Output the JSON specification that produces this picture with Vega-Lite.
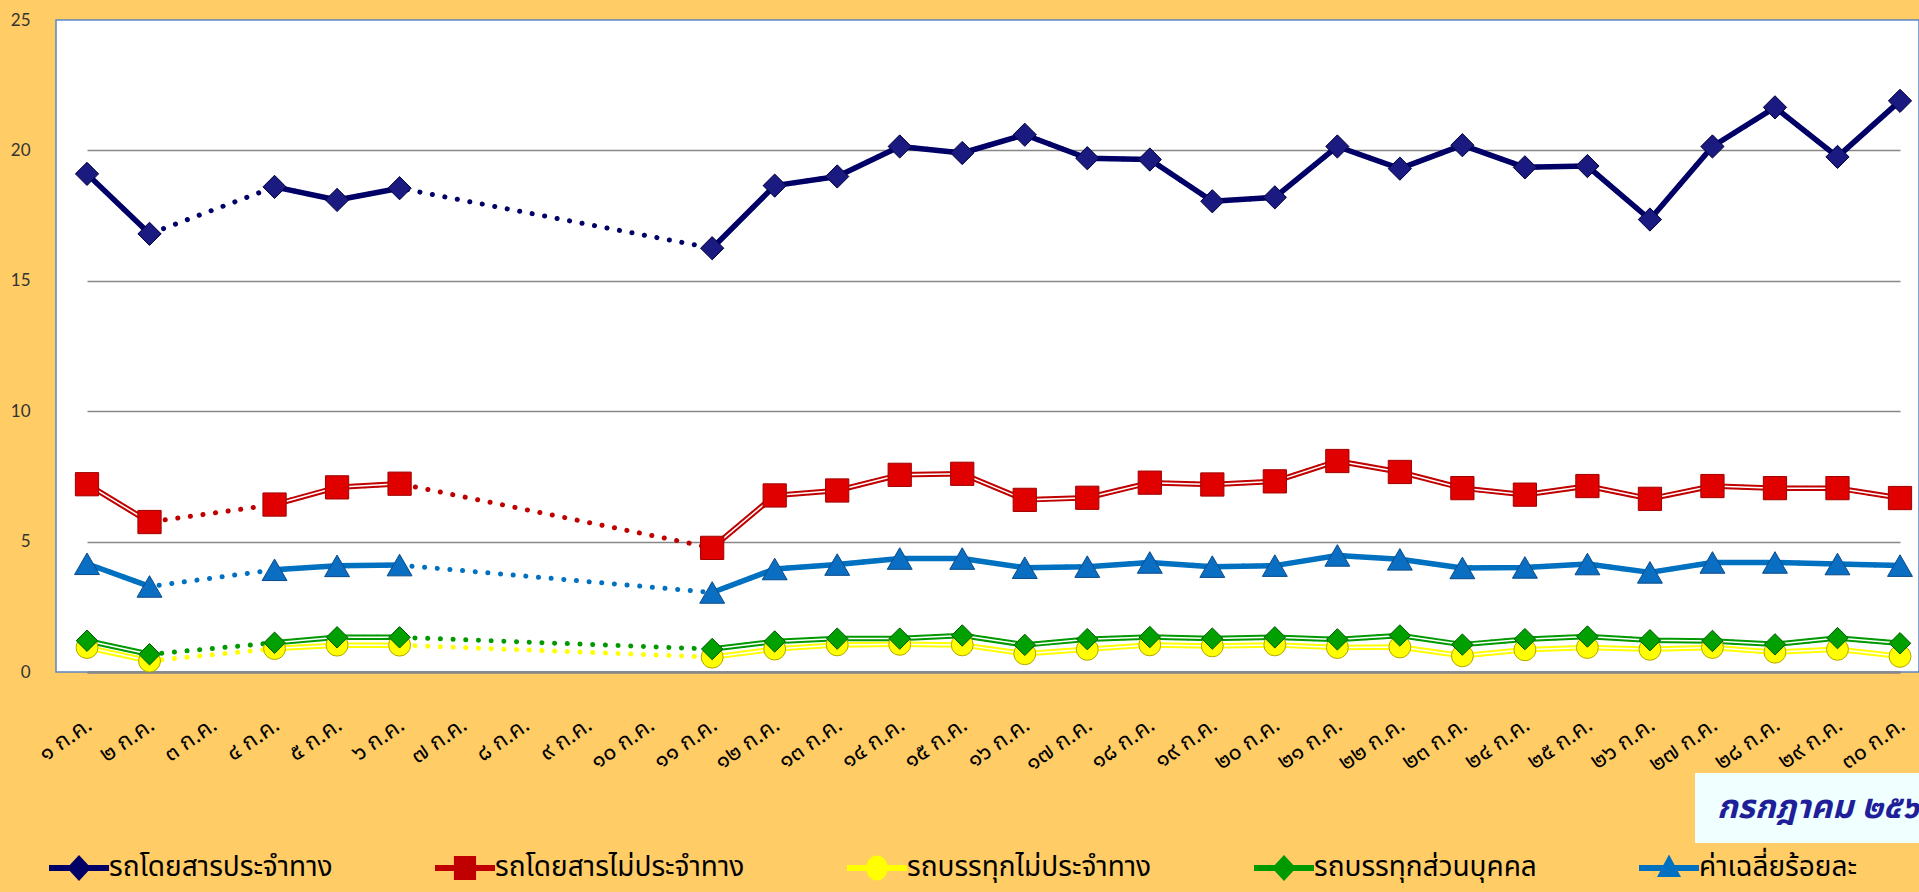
{
  "$schema": "https://vega.github.io/schema/vega-lite/v6.json",
  "width": 1863,
  "height": 652,
  "autosize": "none",
  "padding": {"left": 56, "top": 20, "right": 0, "bottom": 220},
  "background": "#FFCC66",
  "view": {"fill": "white", "stroke": "#5b87c5", "strokeWidth": 1.5},
  "data": {
    "values": [
      {"n": 1, "d": "๑ ก.ค.", "รถโดยสารประจำทาง": 19.1, "รถโดยสารไม่ประจำทาง": 7.2, "รถบรรทุกไม่ประจำทาง": 0.94, "รถบรรทุกส่วนบุคคล": 1.2, "ค่าเฉลี่ยร้อยละ": 4.15},
      {"n": 2, "d": "๒ ก.ค.", "รถโดยสารประจำทาง": 16.8, "รถโดยสารไม่ประจำทาง": 5.75, "รถบรรทุกไม่ประจำทาง": 0.42, "รถบรรทุกส่วนบุคคล": 0.68, "ค่าเฉลี่ยร้อยละ": 3.28},
      {"n": 3, "d": "๓ ก.ค.", "รถโดยสารประจำทาง": null, "รถโดยสารไม่ประจำทาง": null, "รถบรรทุกไม่ประจำทาง": null, "รถบรรทุกส่วนบุคคล": null, "ค่าเฉลี่ยร้อยละ": null},
      {"n": 4, "d": "๔ ก.ค.", "รถโดยสารประจำทาง": 18.6, "รถโดยสารไม่ประจำทาง": 6.42, "รถบรรทุกไม่ประจำทาง": 0.9, "รถบรรทุกส่วนบุคคล": 1.12, "ค่าเฉลี่ยร้อยละ": 3.92},
      {"n": 5, "d": "๕ ก.ค.", "รถโดยสารประจำทาง": 18.1, "รถโดยสารไม่ประจำทาง": 7.08, "รถบรรทุกไม่ประจำทาง": 1.03, "รถบรรทุกส่วนบุคคล": 1.33, "ค่าเฉลี่ยร้อยละ": 4.07},
      {"n": 6, "d": "๖ ก.ค.", "รถโดยสารประจำทาง": 18.55, "รถโดยสารไม่ประจำทาง": 7.22, "รถบรรทุกไม่ประจำทาง": 1.03, "รถบรรทุกส่วนบุคคล": 1.33, "ค่าเฉลี่ยร้อยละ": 4.1},
      {"n": 7, "d": "๗ ก.ค.", "รถโดยสารประจำทาง": null, "รถโดยสารไม่ประจำทาง": null, "รถบรรทุกไม่ประจำทาง": null, "รถบรรทุกส่วนบุคคล": null, "ค่าเฉลี่ยร้อยละ": null},
      {"n": 8, "d": "๘ ก.ค.", "รถโดยสารประจำทาง": null, "รถโดยสารไม่ประจำทาง": null, "รถบรรทุกไม่ประจำทาง": null, "รถบรรทุกส่วนบุคคล": null, "ค่าเฉลี่ยร้อยละ": null},
      {"n": 9, "d": "๙ ก.ค.", "รถโดยสารประจำทาง": null, "รถโดยสารไม่ประจำทาง": null, "รถบรรทุกไม่ประจำทาง": null, "รถบรรทุกส่วนบุคคล": null, "ค่าเฉลี่ยร้อยละ": null},
      {"n": 10, "d": "๑๐ ก.ค.", "รถโดยสารประจำทาง": null, "รถโดยสารไม่ประจำทาง": null, "รถบรรทุกไม่ประจำทาง": null, "รถบรรทุกส่วนบุคคล": null, "ค่าเฉลี่ยร้อยละ": null},
      {"n": 11, "d": "๑๑ ก.ค.", "รถโดยสารประจำทาง": 16.25, "รถโดยสารไม่ประจำทาง": 4.76, "รถบรรทุกไม่ประจำทาง": 0.57, "รถบรรทุกส่วนบุคคล": 0.88, "ค่าเฉลี่ยร้อยละ": 3.05},
      {"n": 12, "d": "๑๒ ก.ค.", "รถโดยสารประจำทาง": 18.65, "รถโดยสารไม่ประจำทาง": 6.77, "รถบรรทุกไม่ประจำทาง": 0.88, "รถบรรทุกส่วนบุคคล": 1.17, "ค่าเฉลี่ยร้อยละ": 3.95},
      {"n": 13, "d": "๑๓ ก.ค.", "รถโดยสารประจำทาง": 19.0, "รถโดยสารไม่ประจำทาง": 6.96, "รถบรรทุกไม่ประจำทาง": 1.04, "รถบรรทุกส่วนบุคคล": 1.28, "ค่าเฉลี่ยร้อยละ": 4.12},
      {"n": 14, "d": "๑๔ ก.ค.", "รถโดยสารประจำทาง": 20.15, "รถโดยสารไม่ประจำทาง": 7.56, "รถบรรทุกไม่ประจำทาง": 1.06, "รถบรรทุกส่วนบุคคล": 1.28, "ค่าเฉลี่ยร้อยละ": 4.35},
      {"n": 15, "d": "๑๕ ก.ค.", "รถโดยสารประจำทาง": 19.9, "รถโดยสารไม่ประจำทาง": 7.6, "รถบรรทุกไม่ประจำทาง": 1.04, "รถบรรทุกส่วนบุคคล": 1.4, "ค่าเฉลี่ยร้อยละ": 4.35},
      {"n": 16, "d": "๑๖ ก.ค.", "รถโดยสารประจำทาง": 20.6, "รถโดยสารไม่ประจำทาง": 6.6, "รถบรรทุกไม่ประจำทาง": 0.7, "รถบรรทุกส่วนบุคคล": 1.04, "ค่าเฉลี่ยร้อยละ": 4.0},
      {"n": 17, "d": "๑๗ ก.ค.", "รถโดยสารประจำทาง": 19.7, "รถโดยสารไม่ประจำทาง": 6.68, "รถบรรทุกไม่ประจำทาง": 0.87, "รถบรรทุกส่วนบุคคล": 1.26, "ค่าเฉลี่ยร้อยละ": 4.04},
      {"n": 18, "d": "๑๘ ก.ค.", "รถโดยสารประจำทาง": 19.65, "รถโดยสารไม่ประจำทาง": 7.26, "รถบรรทุกไม่ประจำทาง": 1.04, "รถบรรทุกส่วนบุคคล": 1.34, "ค่าเฉลี่ยร้อยละ": 4.2},
      {"n": 19, "d": "๑๙ ก.ค.", "รถโดยสารประจำทาง": 18.05, "รถโดยสารไม่ประจำทาง": 7.19, "รถบรรทุกไม่ประจำทาง": 1.0, "รถบรรทุกส่วนบุคคล": 1.28, "ค่าเฉลี่ยร้อยละ": 4.04},
      {"n": 20, "d": "๒๐ ก.ค.", "รถโดยสารประจำทาง": 18.2, "รถโดยสารไม่ประจำทาง": 7.31, "รถบรรทุกไม่ประจำทาง": 1.04, "รถบรรทุกส่วนบุคคล": 1.33, "ค่าเฉลี่ยร้อยละ": 4.08},
      {"n": 21, "d": "๒๑ ก.ค.", "รถโดยสารประจำทาง": 20.15, "รถโดยสารไม่ประจำทาง": 8.09, "รถบรรทุกไม่ประจำทาง": 0.94, "รถบรรทุกส่วนบุคคล": 1.25, "ค่าเฉลี่ยร้อยละ": 4.47},
      {"n": 22, "d": "๒๒ ก.ค.", "รถโดยสารประจำทาง": 19.3, "รถโดยสารไม่ประจำทาง": 7.67, "รถบรรทุกไม่ประจำทาง": 0.96, "รถบรรทุกส่วนบุคคล": 1.4, "ค่าเฉลี่ยร้อยละ": 4.32},
      {"n": 23, "d": "๒๓ ก.ค.", "รถโดยสารประจำทาง": 20.2, "รถโดยสารไม่ประจำทาง": 7.05, "รถบรรทุกไม่ประจำทาง": 0.62, "รถบรรทุกส่วนบุคคล": 1.05, "ค่าเฉลี่ยร้อยละ": 3.99},
      {"n": 24, "d": "๒๔ ก.ค.", "รถโดยสารประจำทาง": 19.35, "รถโดยสารไม่ประจำทาง": 6.8, "รถบรรทุกไม่ประจำทาง": 0.85, "รถบรรทุกส่วนบุคคล": 1.26, "ค่าเฉลี่ยร้อยละ": 4.01},
      {"n": 25, "d": "๒๕ ก.ค.", "รถโดยสารประจำทาง": 19.4, "รถโดยสารไม่ประจำทาง": 7.13, "รถบรรทุกไม่ประจำทาง": 0.94, "รถบรรทุกส่วนบุคคล": 1.36, "ค่าเฉลี่ยร้อยละ": 4.14},
      {"n": 26, "d": "๒๖ ก.ค.", "รถโดยสารประจำทาง": 17.35, "รถโดยสารไม่ประจำทาง": 6.64, "รถบรรทุกไม่ประจำทาง": 0.87, "รถบรรทุกส่วนบุคคล": 1.22, "ค่าเฉลี่ยร้อยละ": 3.82},
      {"n": 27, "d": "๒๗ ก.ค.", "รถโดยสารประจำทาง": 20.15, "รถโดยสารไม่ประจำทาง": 7.13, "รถบรรทุกไม่ประจำทาง": 0.94, "รถบรรทุกส่วนบุคคล": 1.19, "ค่าเฉลี่ยร้อยละ": 4.2},
      {"n": 28, "d": "๒๘ ก.ค.", "รถโดยสารประจำทาง": 21.65, "รถโดยสารไม่ประจำทาง": 7.05, "รถบรรทุกไม่ประจำทาง": 0.76, "รถบรรทุกส่วนบุคคล": 1.06, "ค่าเฉลี่ยร้อยละ": 4.2},
      {"n": 29, "d": "๒๙ ก.ค.", "รถโดยสารประจำทาง": 19.75, "รถโดยสารไม่ประจำทาง": 7.05, "รถบรรทุกไม่ประจำทาง": 0.87, "รถบรรทุกส่วนบุคคล": 1.3, "ค่าเฉลี่ยร้อยละ": 4.14},
      {"n": 30, "d": "๓๐ ก.ค.", "รถโดยสารประจำทาง": 21.9, "รถโดยสารไม่ประจำทาง": 6.67, "รถบรรทุกไม่ประจำทาง": 0.6, "รถบรรทุกส่วนบุคคล": 1.1, "ค่าเฉลี่ยร้อยละ": 4.08}
    ]
  },
  "transform": [
    {"fold": ["รถโดยสารประจำทาง", "รถโดยสารไม่ประจำทาง", "รถบรรทุกไม่ประจำทาง", "รถบรรทุกส่วนบุคคล", "ค่าเฉลี่ยร้อยละ"], "as": ["series", "value"]}
  ],
  "encoding": {
    "x": {
      "field": "d",
      "type": "ordinal",
      "scale": {
        "type": "point",
        "range": [31, 1844],
        "padding": 0,
        "domain": ["๑ ก.ค.", "๒ ก.ค.", "๓ ก.ค.", "๔ ก.ค.", "๕ ก.ค.", "๖ ก.ค.", "๗ ก.ค.", "๘ ก.ค.", "๙ ก.ค.", "๑๐ ก.ค.", "๑๑ ก.ค.", "๑๒ ก.ค.", "๑๓ ก.ค.", "๑๔ ก.ค.", "๑๕ ก.ค.", "๑๖ ก.ค.", "๑๗ ก.ค.", "๑๘ ก.ค.", "๑๙ ก.ค.", "๒๐ ก.ค.", "๒๑ ก.ค.", "๒๒ ก.ค.", "๒๓ ก.ค.", "๒๔ ก.ค.", "๒๕ ก.ค.", "๒๖ ก.ค.", "๒๗ ก.ค.", "๒๘ ก.ค.", "๒๙ ก.ค.", "๓๐ ก.ค."]
      },
      "axis": {
        "title": null,
        "domain": true,
        "domainColor": "#878787",
        "domainWidth": 2.5,
        "ticks": false,
        "grid": false,
        "labelAngle": -35,
        "labelAlign": "right",
        "labelBaseline": "middle",
        "labelPadding": 50,
        "labelOffset": 2,
        "labelFontSize": 23,
        "labelColor": "#000000",
        "labelFont": "Noto Sans Thai, Noto Sans, sans-serif",
        "labelOverlap": false
      }
    },
    "y": {
      "field": "value",
      "type": "quantitative",
      "scale": {"domain": [0, 25], "nice": false},
      "axis": {
        "title": null,
        "values": [0, 5, 10, 15, 20, 25],
        "grid": true,
        "gridColor": {"condition": {"test": "datum.value === 25", "value": "transparent"}, "value": "#878787"},
        "gridWidth": 1.5,
        "domain": false,
        "ticks": false,
        "labelPadding": 26,
        "labelFont": "Lato",
        "labelFontSize": 17,
        "labelColor": "#333333"
      }
    },
    "order": {"field": "n", "type": "quantitative"}
  },
  "resolve": {"legend": {"color": "independent", "shape": "independent", "strokeDash": "independent"}},
  "layer": [
    {
      "mark": {"type": "line", "strokeWidth": 5, "strokeDash": [0.1, 12.6], "strokeCap": "round", "invalid": "filter"},
      "encoding": {
        "color": {
          "field": "series",
          "type": "nominal",
          "scale": {
            "domain": ["รถโดยสารประจำทาง", "รถโดยสารไม่ประจำทาง", "รถบรรทุกไม่ประจำทาง", "รถบรรทุกส่วนบุคคล", "ค่าเฉลี่ยร้อยละ"],
            "range": ["#000066", "#c00000", "#ffff00", "#009900", "#0070c0"]
          },
          "legend": null
        }
      }
    },
    {
      "mark": {"type": "line", "strokeWidth": 5.5, "invalid": "break-paths-show-domains", "strokeJoin": "round"},
      "encoding": {
        "color": {"field": "series", "type": "nominal", "legend": null}
      }
    },
    {
      "transform": [{"filter": {"field": "series", "oneOf": ["รถโดยสารไม่ประจำทาง", "รถบรรทุกไม่ประจำทาง", "รถบรรทุกส่วนบุคคล"]}}],
      "mark": {"type": "line", "strokeWidth": 1.5, "color": "white", "invalid": "break-paths-show-domains"},
      "encoding": {"detail": {"field": "series"}}
    },
    {
      "transform": [{"filter": {"field": "series", "equal": "รถโดยสารประจำทาง"}}],
      "mark": {"type": "point", "shape": "diamond", "filled": true, "size": 540, "fill": "#1a1a80", "stroke": "#00003c", "strokeWidth": 1, "opacity": 1}
    },
    {
      "transform": [{"filter": {"field": "series", "equal": "รถโดยสารไม่ประจำทาง"}}],
      "mark": {"type": "point", "shape": "square", "filled": true, "size": 540, "fill": "#e00000", "stroke": "#a00000", "strokeWidth": 1, "opacity": 1}
    },
    {
      "transform": [{"filter": {"field": "series", "equal": "รถบรรทุกไม่ประจำทาง"}}],
      "mark": {"type": "point", "shape": "circle", "filled": true, "size": 480, "fill": "#ffff00", "stroke": "#b3a600", "strokeWidth": 1, "opacity": 1}
    },
    {
      "transform": [{"filter": {"field": "series", "equal": "รถบรรทุกส่วนบุคคล"}}],
      "mark": {"type": "point", "shape": "diamond", "filled": true, "size": 460, "fill": "#00a000", "stroke": "#005a00", "strokeWidth": 1, "opacity": 1}
    },
    {
      "transform": [{"filter": {"field": "series", "equal": "ค่าเฉลี่ยร้อยละ"}}],
      "mark": {"type": "point", "shape": "triangle-up", "filled": true, "size": 620, "fill": "#0a6fc2", "stroke": "#0a4a8a", "strokeWidth": 1, "opacity": 1}
    },
    {
      "mark": {"type": "point", "filled": true, "size": 0, "strokeWidth": 0},
      "encoding": {
        "color": {
          "field": "series",
          "type": "nominal",
          "legend": {
            "orient": "none",
            "legendX": -7,
            "legendY": 818,
            "direction": "horizontal",
            "title": null,
            "symbolSize": 3600,
            "symbolStrokeWidth": 0,
            "symbolOpacity": 1,
            "labelFontSize": 28,
            "labelFont": "Noto Sans Thai, Noto Sans, sans-serif",
            "labelColor": "#000000",
            "labelOffset": 0,
            "columnPadding": 102,
            "labelLimit": 500
          }
        },
        "shape": {
          "field": "series",
          "type": "nominal",
          "scale": {
            "domain": ["รถโดยสารประจำทาง", "รถโดยสารไม่ประจำทาง", "รถบรรทุกไม่ประจำทาง", "รถบรรทุกส่วนบุคคล", "ค่าเฉลี่ยร้อยละ"],
            "range": [
              "M-1,-0.1H1V0.1H-1Z M0,-0.43L0.4,0L0,0.43L-0.4,0Z",
              "M-1,-0.1H1V0.1H-1Z M-0.37,-0.4H0.37V0.4H-0.37Z",
              "M-1,-0.1H1V0.1H-1Z M-0.36,0A0.36,0.42 0 1,1 0.36,0A0.36,0.42 0 1,1 -0.36,0Z",
              "M-1,-0.1H1V0.1H-1Z M0,-0.43L0.4,0L0,0.43L-0.4,0Z",
              "M-1,-0.1H1V0.1H-1Z M0,-0.45L0.4,0.3L-0.4,0.3Z"
            ]
          },
          "legend": {
            "orient": "none",
            "legendX": -7,
            "legendY": 818,
            "direction": "horizontal",
            "title": null,
            "symbolSize": 3600,
            "symbolStrokeWidth": 0,
            "symbolOpacity": 1,
            "labelFontSize": 28,
            "labelFont": "Noto Sans Thai, Noto Sans, sans-serif",
            "labelColor": "#000000",
            "labelOffset": 0,
            "columnPadding": 102,
            "labelLimit": 500
          }
        }
      }
    },
    {
      "mark": {"type": "point", "filled": true, "size": 0, "strokeWidth": 0},
      "encoding": {
        "strokeDash": {
          "datum": "กรกฎาคม ๒๕๖๑",
          "type": "nominal",
          "legend": {
            "orient": "none",
            "legendX": 1639,
            "legendY": 753,
            "title": null,
            "fillColor": "#f0ffff",
            "padding": 18,
            "symbolSize": 1,
            "symbolOpacity": 0,
            "symbolStrokeWidth": 0,
            "labelOffset": -29,
            "labelFontSize": 33,
            "labelFontStyle": "italic",
            "labelFontWeight": "bold",
            "labelColor": "#1f1f99",
            "labelFont": "Noto Sans Thai, Noto Sans, sans-serif",
            "labelLimit": 1000
          }
        }
      }
    }
  ]
}
